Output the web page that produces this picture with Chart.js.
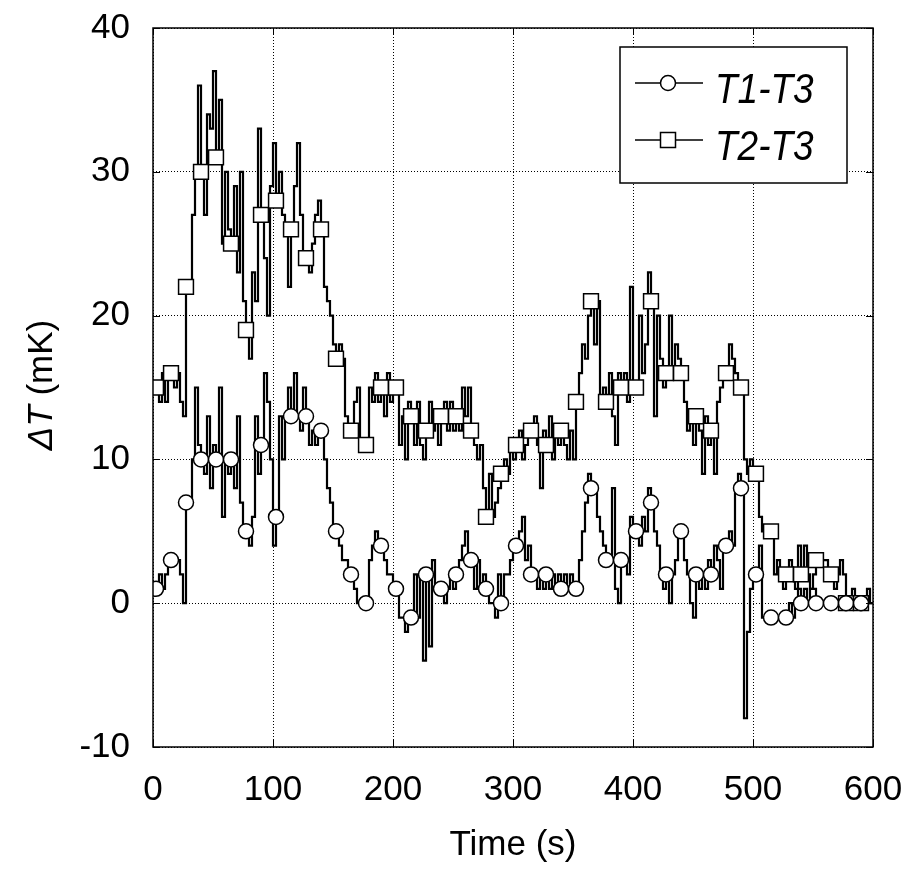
<!DOCTYPE html>
<html>
<head>
<meta charset="utf-8">
<script src="https://cdn.jsdelivr.net/npm/chart.js@4.4.1/dist/chart.umd.min.js"></script>
<style>
  html, body { margin: 0; padding: 0; background: #fff; }
</style>
</head>
<body>
<canvas id="chart" width="914" height="872"></canvas>
<script>
// logger step (s) and how often a marker is drawn on the trace
const STEP = 2.5;
const MARK_EVERY = 5;

const seriesNames = ["T1-T3", "T2-T3"];

// dT, mK, one value every 2.5 s from 0 to 600 s
const t1t3 = [
  1, 1, 2, 1, 2, 3, 3, 3, 3, 2, 0, 7, 7, 10, 15, 11, 10, 9, 13, 8,
  11, 10, 15, 6, 10, 9, 10, 8, 13, 7, 5, 5, 4, 6, 13, 9, 11, 16, 14, 10,
  4, 6, 13, 10, 13, 15, 13, 16, 13, 12, 15, 13, 11, 12, 11, 12, 12, 10, 8, 7,
  5, 5, 4, 3, 3, 2, 2, 1, 0, 0, 0, 0, 3, 4, 5, 4, 4, 3, 2, 2,
  1, 1, -1, -1, -2, -1, -1, 2, -1, 2, -4, 2, -3, 3, 1, 1, 1, 0, 1, 2,
  1, 2, 3, 4, 5, 3, 3, 1, 3, 1, 2, 1, 0, 0, -1, 2, 0, 2, 2, 3,
  4, 4, 5, 6, 3, 4, 2, 2, 1, 2, 1, 2, 1, 2, 1, 2, 1, 2, 1, 2,
  1, 1, 3, 5, 7, 9, 8, 8, 6, 5, 4, 3, 3, 8, 1, 0, 3, 3, 2, 6,
  5, 5, 4, 6, 5, 8, 7, 5, 4, 2, 1, 2, 0, 2, 3, 5, 5, 3, 2, 0,
  -1, 2, 1, 2, 1, 3, 2, 4, 3, 1, 4, 4, 5, 4, 8, 9, 8, -8, -2, 1,
  2, 2, 4, -1, -1, -1, -1, -1, -1, -1, -1, -1, 0, -1, 0, 1, 0, 1, 0, 1,
  1, 0, 0, 0, 0, 0, 0, 0, 0, 0, 0, 0, 0, 0, 0, 0, 0, 0, 0, 0,
  0
];

const t2t3 = [
  15, 15, 14, 16, 14, 16, 16, 15, 16, 14, 13, 22, 22, 27, 30, 36, 30, 27, 34, 33,
  37, 31, 35, 25, 30, 26, 25, 29, 23, 30, 21, 19, 17, 23, 21, 33, 27, 24, 20, 29,
  32, 28, 30, 27, 26, 22, 26, 29, 32, 27, 24, 24, 23, 25, 27, 28, 26, 22, 21, 20,
  18, 17, 18, 17, 13, 12, 12, 14, 15, 11, 11, 11, 15, 14, 16, 14, 15, 13, 16, 14,
  15, 15, 11, 13, 10, 14, 13, 11, 14, 11, 10, 12, 14, 12, 13, 11, 13, 14, 12, 14,
  12, 13, 12, 15, 13, 15, 12, 11, 10, 11, 8, 6, 9, 6, 7, 8, 9, 10, 9, 11,
  10, 11, 12, 10, 11, 12, 12, 13, 11, 8, 12, 11, 13, 10, 12, 11, 12, 11, 10, 12,
  10, 14, 16, 18, 17, 20, 21, 18, 21, 14, 15, 14, 16, 13, 11, 16, 15, 16, 14, 22,
  15, 15, 20, 16, 18, 23, 21, 13, 20, 17, 15, 16, 20, 16, 18, 17, 16, 14, 12, 13,
  11, 13, 12, 9, 13, 11, 12, 9, 14, 15, 16, 16, 18, 17, 16, 15, 15, 10, 9, 10,
  9, 9, 6, 5, 5, 5, 5, 2, 3, 2, 1, 2, 3, 2, 1, 4, 2, 4, 2, 1,
  2, 3, 3, 3, 3, 2, 2, 1, 2, 3, 2, 0, 0, 1, 0, 0, 0, 0, 1, 0,
  0
];

const xTicks = [0, 100, 200, 300, 400, 500, 600];
const yTicks = [-10, 0, 10, 20, 30, 40];

const FONT = "'Liberation Sans', Arial, sans-serif";
const times = t1t3.map((_, i) => i * STEP);

const toPoints = (vals) => vals.map((v, i) => ({ x: times[i], y: v }));
const markerSize = (r) => (ctx) => (ctx.dataIndex % MARK_EVERY === 1 ? r : 0);

// box, inward ticks, legend and axis titles drawn the matlab way
const framePlugin = {
  id: "frame",
  afterDatasetsDraw(chart) {
    const { ctx, chartArea: a, scales } = chart;
    const x = scales.x, y = scales.y;
    ctx.save();
    ctx.strokeStyle = "#000";
    ctx.setLineDash([]);

    ctx.lineWidth = 1.5;
    ctx.strokeRect(a.left, a.top, a.right - a.left, a.bottom - a.top);

    ctx.lineWidth = 1;
    ctx.beginPath();
    xTicks.forEach((v) => {
      const px = Math.round(x.getPixelForValue(v)) + 0.5;
      ctx.moveTo(px, a.bottom); ctx.lineTo(px, a.bottom - 7);
      ctx.moveTo(px, a.top); ctx.lineTo(px, a.top + 7);
    });
    yTicks.forEach((v) => {
      const py = Math.round(y.getPixelForValue(v)) + 0.5;
      ctx.moveTo(a.left, py); ctx.lineTo(a.left + 7, py);
      ctx.moveTo(a.right, py); ctx.lineTo(a.right - 7, py);
    });
    ctx.stroke();

    // legend
    const box = { l: 620, t: 47, w: 227, h: 136 };
    ctx.fillStyle = "#fff";
    ctx.fillRect(box.l, box.t, box.w, box.h);
    ctx.lineWidth = 1.5;
    ctx.strokeRect(box.l, box.t, box.w, box.h);
    const rows = [83, 140];
    chart.data.datasets.forEach((ds, i) => {
      const ry = rows[i];
      ctx.lineWidth = 1.5;
      ctx.beginPath();
      ctx.moveTo(635, ry); ctx.lineTo(703, ry);
      ctx.stroke();
      ctx.fillStyle = "#fff";
      ctx.beginPath();
      if (ds.pointStyle === "circle") {
        ctx.arc(668, ry, 7.5, 0, Math.PI * 2);
      } else {
        ctx.rect(668 - 7.5, ry - 7.5, 15, 15);
      }
      ctx.fill();
      ctx.stroke();
      ctx.save();
      ctx.fillStyle = "#000";
      ctx.font = "italic 42px " + FONT;
      ctx.textBaseline = "alphabetic";
      ctx.translate(715, ry + 20);
      ctx.scale(0.88, 1);
      ctx.fillText(ds.label, 0, 0);
      ctx.restore();
    });

    // axis titles
    ctx.fillStyle = "#000";
    ctx.textBaseline = "alphabetic";
    ctx.font = "35px " + FONT;
    ctx.textAlign = "center";
    ctx.fillText("Time (s)", (a.left + a.right) / 2, 855);

    ctx.save();
    ctx.translate(52, 385);
    ctx.rotate(-Math.PI / 2);
    ctx.textAlign = "left";
    ctx.font = "italic 35px " + FONT;
    const p1 = "\u0394T";
    const w1 = ctx.measureText(p1).width;
    ctx.font = "35px " + FONT;
    const p2 = " (mK)";
    const w2 = ctx.measureText(p2).width;
    const start = -(w1 + w2) / 2;
    ctx.font = "italic 35px " + FONT;
    ctx.fillText(p1, start, 0);
    ctx.font = "35px " + FONT;
    ctx.fillText(p2, start + w1, 0);
    ctx.restore();

    ctx.restore();
  }
};

const gridOpts = { color: "#000", lineWidth: 1, drawTicks: false };
const borderOpts = { display: false, dash: [1, 2] };
const tickFont = { family: FONT, size: 35 };

// fixed box for the axes so the plot area lands where the figure has it
const fitX = (s) => { s.height = 125; s.paddingLeft = 0; s.paddingRight = 0; };
const fitY = (s) => { s.width = 153; s.paddingTop = 0; s.paddingBottom = 0; };

new Chart(document.getElementById("chart"), {
  type: "line",
  data: {
    datasets: [
      {
        label: seriesNames[0],
        data: toPoints(t1t3),
        stepped: true,
        borderColor: "#000",
        borderWidth: 2.2,
        pointStyle: "circle",
        pointRadius: markerSize(7.5),
        pointBackgroundColor: "#fff",
        pointBorderColor: "#000",
        pointBorderWidth: 1.5
      },
      {
        label: seriesNames[1],
        data: toPoints(t2t3),
        stepped: true,
        borderColor: "#000",
        borderWidth: 2.2,
        pointStyle: "rect",
        pointRadius: markerSize(10.5),
        pointBackgroundColor: "#fff",
        pointBorderColor: "#000",
        pointBorderWidth: 1.5
      }
    ]
  },
  options: {
    responsive: false,
    animation: false,
    events: [],
    layout: { padding: { top: 28, right: 41, left: 0, bottom: 0 } },
    plugins: {
      legend: { display: false },
      tooltip: { enabled: false }
    },
    scales: {
      x: {
        type: "linear",
        min: xTicks[0],
        max: xTicks[xTicks.length - 1],
        afterBuildTicks: (s) => { s.ticks = xTicks.map((v) => ({ value: v })); },
        afterFit: fitX,
        grid: gridOpts,
        border: borderOpts,
        ticks: { color: "#000", font: tickFont, padding: 22, maxRotation: 0, autoSkip: false }
      },
      y: {
        min: yTicks[0],
        max: yTicks[yTicks.length - 1],
        afterBuildTicks: (s) => { s.ticks = yTicks.map((v) => ({ value: v })); },
        afterFit: fitY,
        grid: gridOpts,
        border: borderOpts,
        ticks: { color: "#000", font: tickFont, padding: 23 }
      }
    }
  },
  plugins: [framePlugin]
});
</script>
</body>
</html>
